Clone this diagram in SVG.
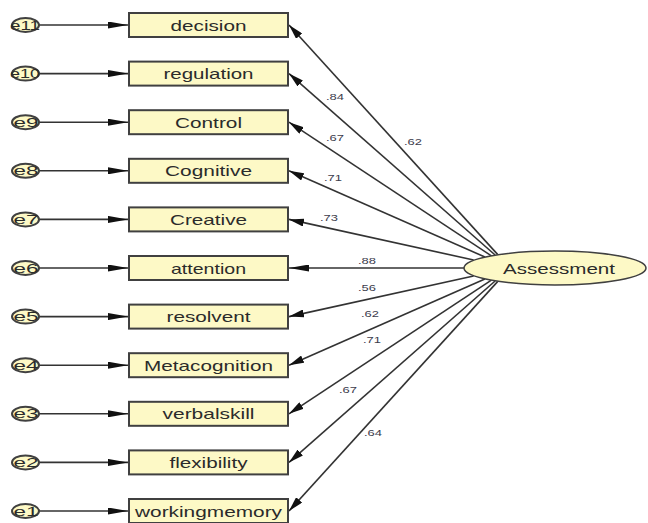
<svg xmlns="http://www.w3.org/2000/svg" width="648" height="523" viewBox="0 0 648 523">
<style>
.box{fill:#fdf9c6;stroke:#404040;stroke-width:2}
.err{fill:#fdf9c6;stroke:#404040;stroke-width:2}
.lat{fill:#fdf9c6;stroke:#404040;stroke-width:1.5}
.lbl{font-family:"Liberation Sans",Arial,sans-serif;font-size:15px;fill:#2b2b2b;text-anchor:middle}
.elbl{font-family:"Liberation Sans",Arial,sans-serif;font-size:13px;fill:#2b2b2b;text-anchor:middle}
.num{font-family:"Liberation Sans",Arial,sans-serif;font-size:9px;fill:#3c3c4c;text-anchor:middle}
.ln{stroke:#333;stroke-width:1.6;fill:none}
.h{marker-end:url(#ah)}
.d{marker-end:url(#ad)}
</style>
<defs>
<marker id="ah" markerUnits="userSpaceOnUse" viewBox="0 0 20 7" refX="20" refY="3.5" markerWidth="20" markerHeight="7" orient="auto"><path d="M0,0 L20,3.5 L0,7 z" fill="#111"/></marker>
<marker id="ad" markerUnits="userSpaceOnUse" viewBox="0 0 15 8" refX="15" refY="4" markerWidth="15" markerHeight="8" orient="auto"><path d="M0,0 L15,4 L0,8 z" fill="#111"/></marker>
</defs>
<g id="connectors">
<line class="ln h" x1="39" y1="25" x2="128" y2="25"/>
<line class="ln h" x1="39" y1="73.6" x2="128" y2="73.6"/>
<line class="ln h" x1="39" y1="122.2" x2="128" y2="122.2"/>
<line class="ln h" x1="39" y1="170.8" x2="128" y2="170.8"/>
<line class="ln h" x1="39" y1="219.4" x2="128" y2="219.4"/>
<line class="ln h" x1="39" y1="268" x2="128" y2="268"/>
<line class="ln h" x1="39" y1="316.6" x2="128" y2="316.6"/>
<line class="ln h" x1="39" y1="365.2" x2="128" y2="365.2"/>
<line class="ln h" x1="39" y1="413.8" x2="128" y2="413.8"/>
<line class="ln h" x1="39" y1="462.4" x2="128" y2="462.4"/>
<line class="ln h" x1="39" y1="511" x2="128" y2="511"/>
<line class="ln d" x1="497.8" y1="254.6" x2="289" y2="25"/>
<line class="ln d" x1="495.1" y1="255" x2="289" y2="73.6"/>
<line class="ln d" x1="491.4" y1="255.8" x2="289" y2="122.2"/>
<line class="ln d" x1="484.9" y1="257" x2="289" y2="170.8"/>
<line class="ln d" x1="473.6" y1="260" x2="289" y2="219.4"/>
<line class="ln h" x1="464" y1="268" x2="289" y2="268"/>
<line class="ln d" x1="473.6" y1="276" x2="289" y2="316.6"/>
<line class="ln d" x1="484.9" y1="279" x2="289" y2="365.2"/>
<line class="ln d" x1="491.4" y1="280.2" x2="289" y2="413.8"/>
<line class="ln d" x1="495.1" y1="281" x2="289" y2="462.4"/>
<line class="ln d" x1="497.8" y1="281.4" x2="289" y2="511"/>
<text class="num" x="413" y="145" textLength="18" lengthAdjust="spacingAndGlyphs">.62</text>
<text class="num" x="335" y="100" textLength="18" lengthAdjust="spacingAndGlyphs">.84</text>
<text class="num" x="335" y="141" textLength="18" lengthAdjust="spacingAndGlyphs">.67</text>
<text class="num" x="333" y="181" textLength="18" lengthAdjust="spacingAndGlyphs">.71</text>
<text class="num" x="329" y="221" textLength="18" lengthAdjust="spacingAndGlyphs">.73</text>
<text class="num" x="367" y="264" textLength="18" lengthAdjust="spacingAndGlyphs">.88</text>
<text class="num" x="367" y="291" textLength="18" lengthAdjust="spacingAndGlyphs">.56</text>
<text class="num" x="370" y="317" textLength="18" lengthAdjust="spacingAndGlyphs">.62</text>
<text class="num" x="372" y="343" textLength="18" lengthAdjust="spacingAndGlyphs">.71</text>
<text class="num" x="348" y="393" textLength="18" lengthAdjust="spacingAndGlyphs">.67</text>
<text class="num" x="373" y="436" textLength="18" lengthAdjust="spacingAndGlyphs">.64</text>
</g>
<g id="e11"><ellipse class="err" cx="25.5" cy="25" rx="13.5" ry="7"/><text class="elbl" x="25" y="29.5" textLength="30" lengthAdjust="spacingAndGlyphs">e11</text></g>
<g id="e10"><ellipse class="err" cx="25.5" cy="73.6" rx="13.5" ry="7"/><text class="elbl" x="25" y="78.1" textLength="30" lengthAdjust="spacingAndGlyphs">e10</text></g>
<g id="e9"><ellipse class="err" cx="25.5" cy="122.2" rx="13.5" ry="7"/><text class="elbl" x="26" y="126.7" textLength="25" lengthAdjust="spacingAndGlyphs">e9</text></g>
<g id="e8"><ellipse class="err" cx="25.5" cy="170.8" rx="13.5" ry="7"/><text class="elbl" x="26" y="175.3" textLength="25" lengthAdjust="spacingAndGlyphs">e8</text></g>
<g id="e7"><ellipse class="err" cx="25.5" cy="219.4" rx="13.5" ry="7"/><text class="elbl" x="26" y="223.9" textLength="25" lengthAdjust="spacingAndGlyphs">e7</text></g>
<g id="e6"><ellipse class="err" cx="25.5" cy="268" rx="13.5" ry="7"/><text class="elbl" x="26" y="272.5" textLength="25" lengthAdjust="spacingAndGlyphs">e6</text></g>
<g id="e5"><ellipse class="err" cx="25.5" cy="316.6" rx="13.5" ry="7"/><text class="elbl" x="26" y="321.1" textLength="25" lengthAdjust="spacingAndGlyphs">e5</text></g>
<g id="e4"><ellipse class="err" cx="25.5" cy="365.2" rx="13.5" ry="7"/><text class="elbl" x="26" y="369.7" textLength="25" lengthAdjust="spacingAndGlyphs">e4</text></g>
<g id="e3"><ellipse class="err" cx="25.5" cy="413.8" rx="13.5" ry="7"/><text class="elbl" x="26" y="418.3" textLength="25" lengthAdjust="spacingAndGlyphs">e3</text></g>
<g id="e2"><ellipse class="err" cx="25.5" cy="462.4" rx="13.5" ry="7"/><text class="elbl" x="26" y="466.9" textLength="25" lengthAdjust="spacingAndGlyphs">e2</text></g>
<g id="e1"><ellipse class="err" cx="25.5" cy="511" rx="13.5" ry="7"/><text class="elbl" x="26" y="515.5" textLength="25" lengthAdjust="spacingAndGlyphs">e1</text></g>
<g id="decision"><rect class="box" x="129" y="13" width="159" height="24"/><text class="lbl" x="208.5" y="30.5" textLength="76" lengthAdjust="spacingAndGlyphs">decision</text></g>
<g id="regulation"><rect class="box" x="129" y="61.6" width="159" height="24"/><text class="lbl" x="208.5" y="79.1" textLength="90" lengthAdjust="spacingAndGlyphs">regulation</text></g>
<g id="Control"><rect class="box" x="129" y="110.2" width="159" height="24"/><text class="lbl" x="208.5" y="127.7" textLength="67" lengthAdjust="spacingAndGlyphs">Control</text></g>
<g id="Cognitive"><rect class="box" x="129" y="158.8" width="159" height="24"/><text class="lbl" x="208.5" y="176.3" textLength="87" lengthAdjust="spacingAndGlyphs">Cognitive</text></g>
<g id="Creative"><rect class="box" x="129" y="207.4" width="159" height="24"/><text class="lbl" x="208.5" y="224.9" textLength="77" lengthAdjust="spacingAndGlyphs">Creative</text></g>
<g id="attention"><rect class="box" x="129" y="256" width="159" height="24"/><text class="lbl" x="208.5" y="273.5" textLength="75" lengthAdjust="spacingAndGlyphs">attention</text></g>
<g id="resolvent"><rect class="box" x="129" y="304.6" width="159" height="24"/><text class="lbl" x="208.5" y="322.1" textLength="84" lengthAdjust="spacingAndGlyphs">resolvent</text></g>
<g id="Metacognition"><rect class="box" x="129" y="353.2" width="159" height="24"/><text class="lbl" x="208.5" y="370.7" textLength="129" lengthAdjust="spacingAndGlyphs">Metacognition</text></g>
<g id="verbalskill"><rect class="box" x="129" y="401.8" width="159" height="24"/><text class="lbl" x="208.5" y="419.3" textLength="92" lengthAdjust="spacingAndGlyphs">verbalskill</text></g>
<g id="flexibility"><rect class="box" x="129" y="450.4" width="159" height="24"/><text class="lbl" x="208.5" y="467.9" textLength="78" lengthAdjust="spacingAndGlyphs">flexibility</text></g>
<g id="workingmemory"><rect class="box" x="129" y="499" width="159" height="24"/><text class="lbl" x="208.5" y="516.5" textLength="147" lengthAdjust="spacingAndGlyphs">workingmemory</text></g>
<g id="Assessment"><ellipse class="lat" cx="555" cy="268" rx="91" ry="17"/><text class="lbl" x="559" y="273.5" font-size="16" textLength="112" lengthAdjust="spacingAndGlyphs">Assessment</text></g>
</svg>
